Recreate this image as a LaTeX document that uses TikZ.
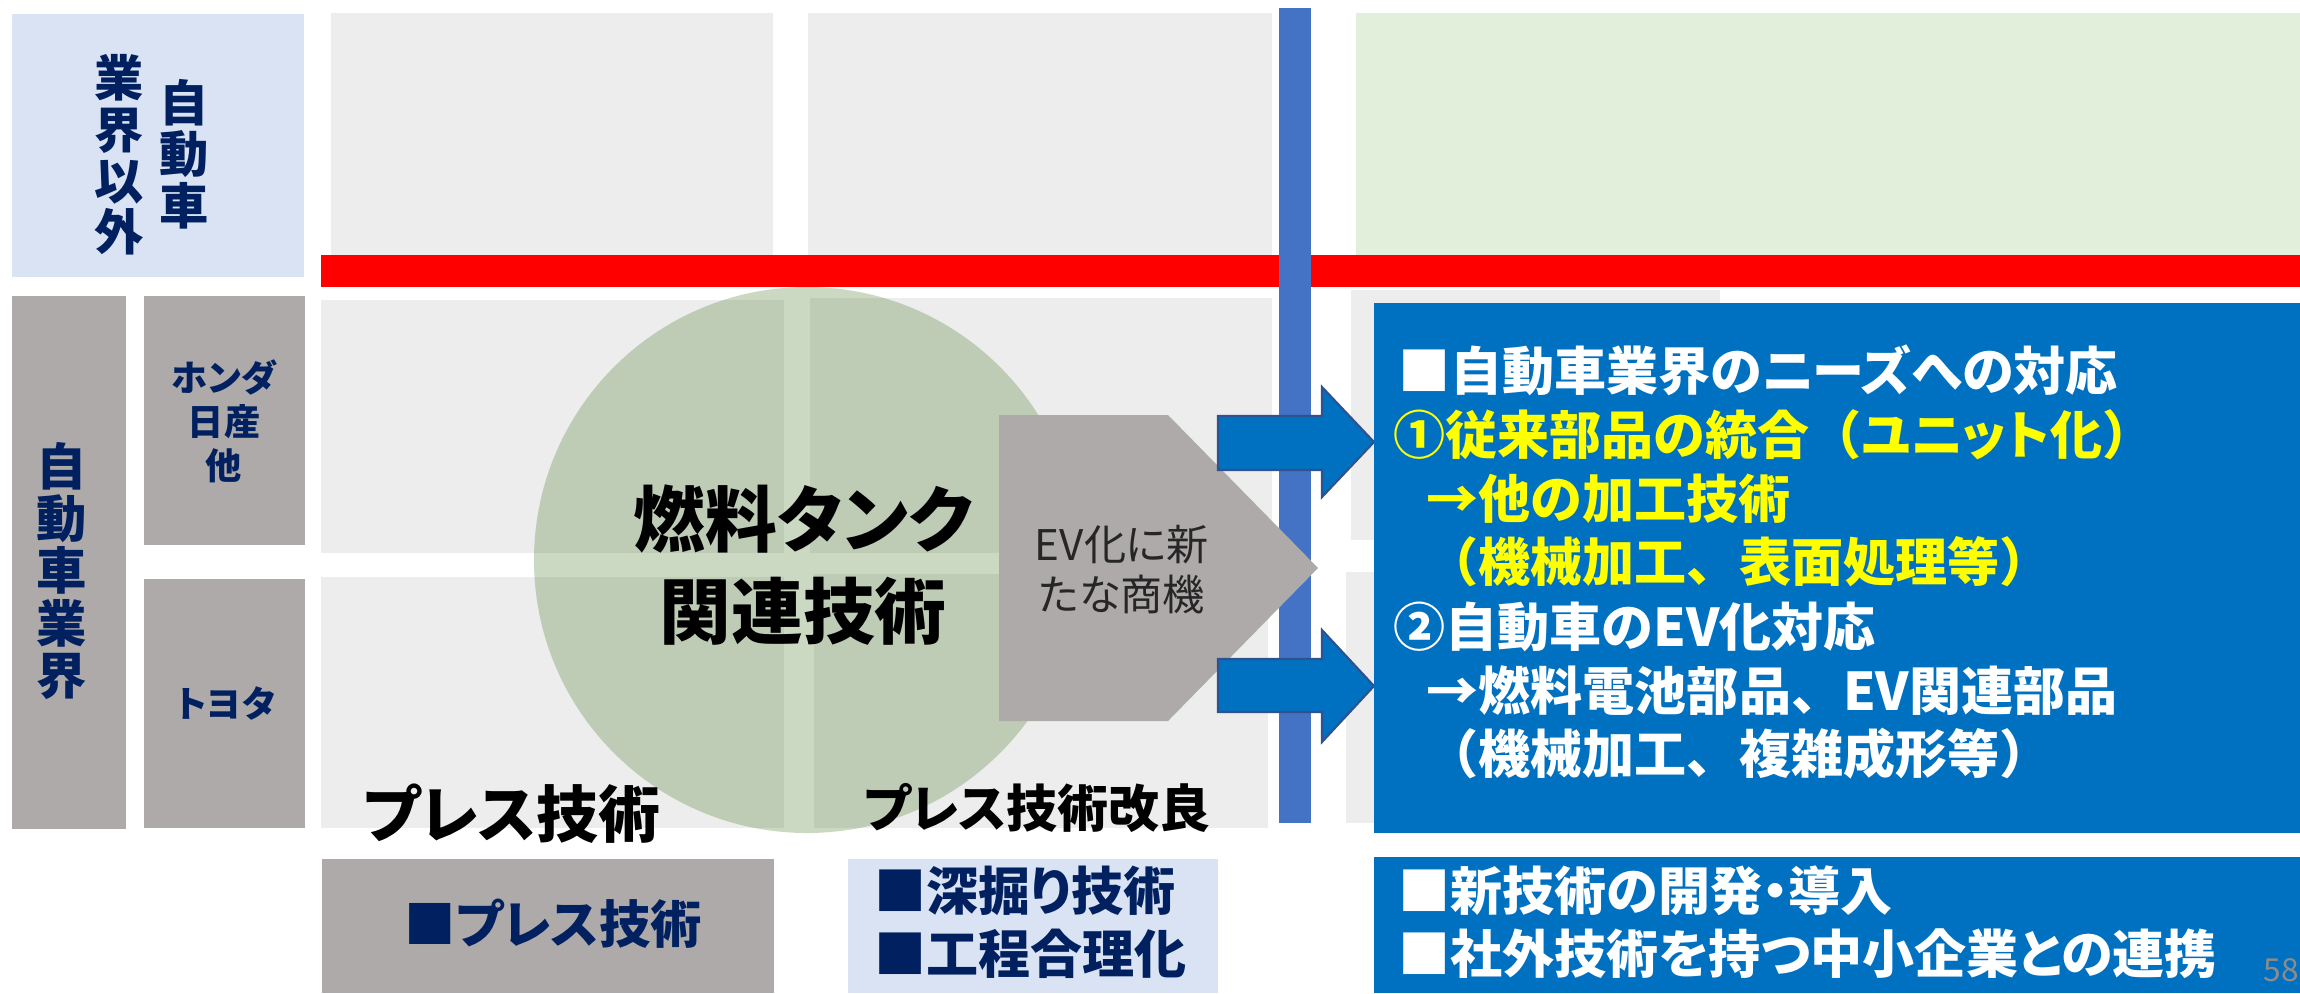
\documentclass[tikz,border=0pt]{standalone}
\usepackage{fontspec}
\setmainfont{Noto Sans CJK JP}[RawFeature=+palt]
\newfontfamily\fullw{Noto Sans CJK JP}
\definecolor{lgray}{HTML}{EDEDED}
\definecolor{mgray}{HTML}{AEAAAA}
\definecolor{lblue}{HTML}{DAE3F3}
\definecolor{navy}{HTML}{002060}
\definecolor{dblue}{HTML}{0070C0}
\definecolor{barblue}{HTML}{4472C4}
\definecolor{lgreen}{HTML}{E2EFDA}
\definecolor{sage}{HTML}{548235}
\definecolor{arrowedge}{HTML}{2F528F}
\definecolor{txtgray}{HTML}{262626}
\definecolor{pgnum}{HTML}{8C8C8C}
\definecolor{ylw}{HTML}{FFFF00}
\newcommand\jfs[2]{\fontsize{#1}{#2}\selectfont}
\newcommand\wcomma{{\fullw 、}}
\begin{document}
\begin{tikzpicture}[x=0.01cm,y=-0.01cm,
  lgbox/.style={fill=lgray},
  mgbox/.style={fill=mgray},
  lbbox/.style={fill=lblue},
  dbbox/.style={fill=dblue},
  oneline/.style={inner sep=0pt, text height=0.88em, text depth=0.12em},
  multi/.style={inner sep=0pt, align=center},
  blockarrow/.style={fill=dblue, draw=arrowedge, line width=0.6pt, line join=miter},
]
\useasboundingbox (0,0) rectangle (2300,993);
% background panels
\fill[lgbox] (331,13) rectangle (773,256);
\fill[lgbox] (808,13) rectangle (1272,256);
\fill[lgbox] (321,300) rectangle (784,553);
\fill[lgbox] (810,298) rectangle (1272,553);
\fill[lgbox] (321,577) rectangle (784,828);
\fill[lgbox] (814,574) rectangle (1268,828);
\fill[lgbox] (1351,290) rectangle (1720,540);
\fill[lgbox] (1346,572) rectangle (1720,823);
\fill[lgreen] (1356,13) rectangle (2300,256);
\fill[lbbox] (12,14) rectangle (304,277);
\fill[mgbox] (12,296) rectangle (126,829);
\fill[mgbox] (144,296) rectangle (305,545);
\fill[mgbox] (144,579) rectangle (305,828);
% red line
\fill[red] (321,255) rectangle (2300,287);
% circle
\fill[sage, opacity=0.3] (807,560) circle [radius=273];
% vertical blue bar
\fill[barblue] (1279,8) rectangle (1311,823);
% pentagon
\fill[mgbox] (999,415) -- (1168,415) -- (1318,568) -- (1168,721) -- (999,721) -- cycle;
% block arrows
\filldraw[blockarrow] (1218,416) -- (1322,416) -- (1322,387) -- (1374,442) -- (1322,497) -- (1322,470) -- (1218,470) -- cycle;
\filldraw[blockarrow] (1218,659) -- (1322,659) -- (1322,630) -- (1374,686) -- (1322,742) -- (1322,712) -- (1218,712) -- cycle;
% right blue boxes
\fill[dbbox] (1374,303) rectangle (2300,833);
\fill[dbbox] (1374,857) rectangle (2300,993);
% bottom boxes
\fill[mgbox] (322,859) rectangle (774,993);
\fill[lbbox] (848,859) rectangle (1218,993);

% texts left
\node[multi, text=navy, font=\jfs{14}{14.6}\bfseries] (jidousha) at (184,154) {自\\動\\車};
\node[multi, text=navy, font=\jfs{14}{14.6}\bfseries] (igai) at (119,155) {業\\界\\以\\外};
\node[multi, text=navy, font=\jfs{14.3}{14.8}\bfseries] (gyokai) at (62,571) {自\\動\\車\\業\\界};
\node[multi, text=navy, font=\jfs{10.3}{12.5}\bfseries] (honda) at (224,421) {ホンダ\\日産\\他};
\node[oneline, text=navy, font=\jfs{10.3}{12.5}\bfseries] (toyota) at (226,704) {トヨタ};

% centre
\node[multi, text=black, font=\jfs{20.4}{26.2}\bfseries] (tank) at (803,565) {燃料タンク\\関連技術};
\node[multi, text=txtgray, font=\jfs{12}{14.2}] (ev) at (1122,570) {EV化に新\\たな商機};
\node[oneline, text=black, font=\jfs{17.6}{20}\bfseries] (press) at (512,824) {プレス技術};
\node[oneline, text=black, font=\jfs{14.5}{16}\bfseries] (kairyo) at (1037,814) {プレス技術改良};
\node[oneline, text=navy, font=\jfs{14.6}{16}\bfseries] (pressb) at (553,930) {■プレス技術};
\node[oneline, text=navy, font=\jfs{14.8}{16}\bfseries, anchor=west] (fuka) at (874,897) {■深掘り技術};
\node[oneline, text=navy, font=\jfs{14.8}{16}\bfseries, anchor=west] (kotei) at (874,960) {■工程合理化};

% right texts
\begin{scope}[every node/.style={oneline, anchor=west, font=\jfs{14.8}{18}\bfseries}]
\node[text=white] (l1) at (1398,377) {■自動車業界のニーズへの対応};
\node[text=ylw] (l2) at (1393,441) {①従来部品の統合{\fullw（}ユニット化{\fullw ）}};
\node[text=ylw] (l3) at (1426,505) {→他の加工技術};
\node[text=ylw] (l4) at (1426,568) {{\fullw（}機械加工\wcomma 表面処理等{\fullw ）}};
\node[text=white] (l5) at (1393,633) {②自動車のEV化対応};
\node[text=white] (l6) at (1426,697) {→燃料電池部品\wcomma EV関連部品};
\node[text=white] (l7) at (1426,760) {{\fullw（}機械加工\wcomma 複雑成形等{\fullw ）}};
\node[text=white] (m1) at (1398,897) {■新技術の開発・導入};
\node[text=white] (m2) at (1398,960) {■社外技術を持つ中小企業との連携};
\end{scope}
\node[oneline, text=pgnum, font=\jfs{9}{10}] (pg) at (2281,968) {58};
\end{tikzpicture}
\end{document}
